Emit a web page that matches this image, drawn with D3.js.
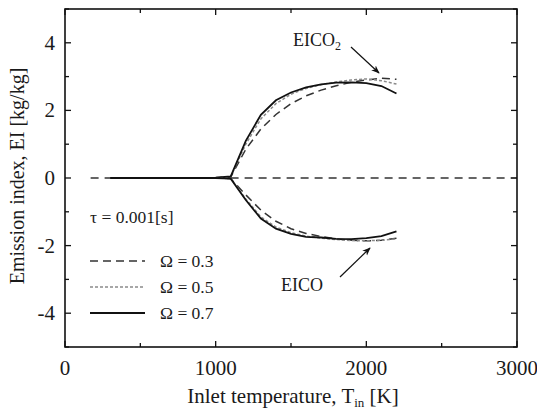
<!DOCTYPE html>
<meta charset="utf-8">
<title>Emission index vs inlet temperature</title>
<script src="https://d3js.org/d3.v7.min.js"></script>
<style>
  body { margin: 0; background: #fff; }
  text { font-family: "Liberation Serif", "Times New Roman", serif; fill: #1a1a1a; }
</style>
<div id="chart"></div>
<script>

// inlet temperature [K]
var temps = [300, 400, 500, 600, 700, 800, 900, 1000, 1100, 1200, 1300, 1400, 1500, 1600, 1700, 1800, 1900, 2000, 2100, 2200];

// EICO2 [kg/kg]
var co2_03 = [0, 0, 0, 0, 0, 0, 0, 0.01, 0.03, 0.85, 1.45, 1.88, 2.2, 2.43, 2.6, 2.73, 2.83, 2.9, 2.95, 2.92];
var co2_05 = [0, 0, 0, 0, 0, 0, 0, 0.01, 0.04, 1.0, 1.75, 2.2, 2.48, 2.65, 2.76, 2.84, 2.9, 2.93, 2.88, 2.78];
var co2_07 = [0, 0, 0, 0, 0, 0, 0, 0.01, 0.05, 1.1, 1.87, 2.3, 2.53, 2.68, 2.77, 2.82, 2.83, 2.81, 2.72, 2.5];

// EICO [kg/kg] (plotted negative)
var co_03 = [0, 0, 0, 0, 0, 0, 0, 0, -0.02, -0.5, -0.95, -1.28, -1.5, -1.64, -1.73, -1.8, -1.84, -1.86, -1.84, -1.78];
var co_05 = [0, 0, 0, 0, 0, 0, 0, 0, -0.02, -0.62, -1.15, -1.45, -1.62, -1.72, -1.78, -1.82, -1.85, -1.86, -1.84, -1.8];
var co_07 = [0, 0, 0, 0, 0, 0, 0, 0, -0.02, -0.65, -1.2, -1.5, -1.65, -1.74, -1.76, -1.8, -1.81, -1.78, -1.72, -1.58];

var omegas = ["0.3", "0.5", "0.7"];
var zeroLine = [170, 3000];

var xTicks = [0, 1000, 2000, 3000];
var xMinor = [500, 1500, 2500];
var yTicks = [-4, -2, 0, 2, 4];
var yMinor = [-5, -3, -1, 1, 3, 5];

var W = 537, H = 410;
var margin = {top: 9, right: 20, bottom: 63, left: 65};
var width = W - margin.left - margin.right,
    height = H - margin.top - margin.bottom;

var svg = d3.select("#chart").append("svg")
    .attr("width", W)
    .attr("height", H)
  .append("g")
    .attr("transform", "translate(" + margin.left + "," + margin.top + ")");

var x = d3.scaleLinear().domain([0, 3000]).range([0, width]);
var y = d3.scaleLinear().domain([-5, 5]).range([height, 0]);

// styles per omega
var styles = {
  "0.3": {stroke: "#333", dash: "8,5", w: 1.5},
  "0.5": {stroke: "#8a8a8a", dash: "3,2", w: 1.5},
  "0.7": {stroke: "#111", dash: null, w: 1.8}
};

// ticks, inward on all four sides
function tickLines(vals, len, horizontal) {
  vals.forEach(function(v) {
    if (horizontal) {
      svg.append("line").attr("x1", x(v)).attr("x2", x(v)).attr("y1", height).attr("y2", height - len).attr("stroke", "#111").attr("stroke-width", 1.3);
      svg.append("line").attr("x1", x(v)).attr("x2", x(v)).attr("y1", 0).attr("y2", len).attr("stroke", "#111").attr("stroke-width", 1.3);
    } else {
      svg.append("line").attr("y1", y(v)).attr("y2", y(v)).attr("x1", 0).attr("x2", len).attr("stroke", "#111").attr("stroke-width", 1.3);
      svg.append("line").attr("y1", y(v)).attr("y2", y(v)).attr("x1", width).attr("x2", width - len).attr("stroke", "#111").attr("stroke-width", 1.3);
    }
  });
}
tickLines(xTicks, 6, true);
tickLines(xMinor, 4, true);
tickLines(yTicks, 6, false);
tickLines(yMinor, 4, false);

svg.selectAll(".xlab").data(xTicks).enter().append("text")
    .attr("x", function(d) { return x(d); })
    .attr("y", height + 28)
    .attr("text-anchor", "middle")
    .style("font-size", "21px")
    .text(function(d) { return d; });

svg.selectAll(".ylab").data(yTicks).enter().append("text")
    .attr("x", -10)
    .attr("y", function(d) { return y(d) + 7; })
    .attr("text-anchor", "end")
    .style("font-size", "21px")
    .text(function(d) { return d; });

// axis titles
var xt = svg.append("text")
    .attr("x", width / 2 + 2)
    .attr("y", height + 56)
    .attr("text-anchor", "middle")
    .style("font-size", "21px");
xt.append("tspan").text("Inlet temperature, T");
xt.append("tspan").attr("dy", 4).style("font-size", "13px").text("in");
xt.append("tspan").attr("dy", -4).text(" [K]");

svg.append("text")
    .attr("transform", "translate(-41," + (y(0) - 2) + ") rotate(-90)")
    .attr("text-anchor", "middle")
    .style("font-size", "20px")
    .text("Emission index, EI [kg/kg]");

// zero reference line
svg.append("line")
    .attr("x1", x(zeroLine[0])).attr("x2", x(zeroLine[1]))
    .attr("y1", y(0)).attr("y2", y(0))
    .attr("stroke", "#333").attr("stroke-width", 1.5)
    .attr("stroke-dasharray", "8,6");

var line = d3.line()
    .x(function(d) { return x(d[0]); })
    .y(function(d) { return y(d[1]); });

var series = [
  {om: "0.3", vals: co2_03}, {om: "0.5", vals: co2_05}, {om: "0.7", vals: co2_07},
  {om: "0.3", vals: co_03}, {om: "0.5", vals: co_05}, {om: "0.7", vals: co_07}
];

series.forEach(function(s) {
  var st = styles[s.om];
  svg.append("path")
      .datum(temps.map(function(t, i) { return [t, s.vals[i]]; }))
      .attr("fill", "none")
      .attr("stroke", st.stroke)
      .attr("stroke-width", st.w)
      .attr("stroke-dasharray", st.dash)
      .attr("d", line);
});

// frame
svg.append("rect")
    .attr("width", width).attr("height", height)
    .attr("fill", "none").attr("stroke", "#111").attr("stroke-width", 1.6);

// legend
svg.append("text")
    .attr("x", 25).attr("y", 223 - margin.top)
    .style("font-size", "17.5px")
    .text("\u03c4 = 0.001[s]");

omegas.forEach(function(om, i) {
  var ly = 261 - margin.top + i * 26;
  var st = styles[om];
  svg.append("line")
      .attr("x1", 25).attr("x2", 80)
      .attr("y1", ly).attr("y2", ly)
      .attr("stroke", st.stroke).attr("stroke-width", st.w)
      .attr("stroke-dasharray", st.dash);
  svg.append("text")
      .attr("x", 95).attr("y", ly + 6)
      .style("font-size", "17.5px")
      .text("\u03a9 = " + om);
});

// annotations
svg.append("defs").append("marker")
    .attr("id", "arrow")
    .attr("viewBox", "0 0 10 10")
    .attr("refX", 9).attr("refY", 5)
    .attr("markerWidth", 7).attr("markerHeight", 7)
    .attr("orient", "auto")
  .append("path")
    .attr("d", "M0,1 L10,5 L0,9 L3,5 z")
    .attr("fill", "#111");

var co2lab = svg.append("text")
    .attr("x", 293 - margin.left).attr("y", 46 - margin.top)
    .style("font-size", "18px");
co2lab.append("tspan").text("EICO");
co2lab.append("tspan").attr("dy", 4).style("font-size", "12px").text("2");

svg.append("line")
    .attr("x1", 351 - margin.left).attr("y1", 47 - margin.top)
    .attr("x2", 379 - margin.left).attr("y2", 73 - margin.top)
    .attr("stroke", "#111").attr("stroke-width", 1.2)
    .attr("marker-end", "url(#arrow)");

svg.append("text")
    .attr("x", 281 - margin.left).attr("y", 291 - margin.top)
    .style("font-size", "18px")
    .text("EICO");

svg.append("line")
    .attr("x1", 340 - margin.left).attr("y1", 277 - margin.top)
    .attr("x2", 370 - margin.left).attr("y2", 248 - margin.top)
    .attr("stroke", "#111").attr("stroke-width", 1.2)
    .attr("marker-end", "url(#arrow)");

</script>
